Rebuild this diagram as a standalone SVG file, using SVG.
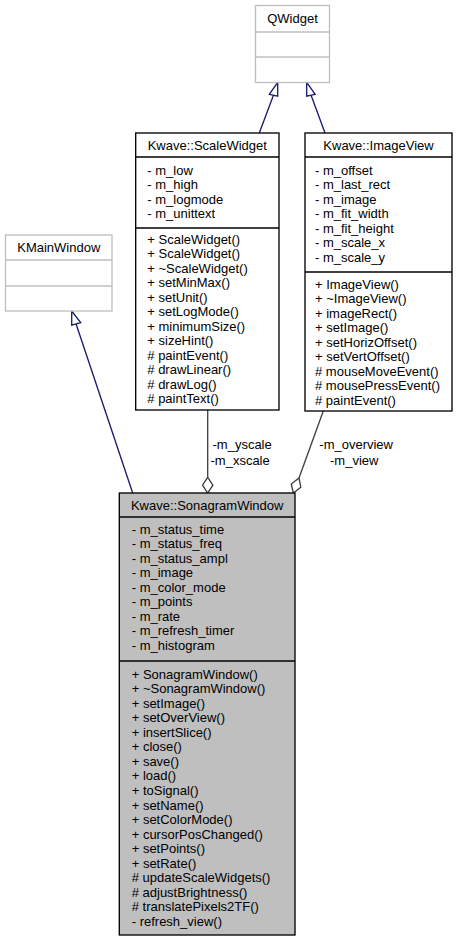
<svg xmlns="http://www.w3.org/2000/svg" width="458" height="941" viewBox="0 0 458 941">
<style>
text{font-family:"Liberation Sans",Arial,Helvetica,sans-serif;font-size:13px;fill:#000}
.c{text-anchor:middle}
.ext rect,.ext line{stroke:#bfbfbf;stroke-width:1.33;fill:#fff}
.cls rect,.cls line{stroke:#000;stroke-width:1.33;fill:#fff}
.cls rect.main{fill:#bfbfbf}
.inh{stroke:#191970;stroke-width:1.33;fill:none}
.inhh{stroke:#191970;stroke-width:1.33;fill:#fff}
.agg{stroke:#404040;stroke-width:1.33;fill:none}
.aggh{stroke:#404040;stroke-width:1.33;fill:#fff}
</style>
<rect width="458" height="941" fill="#fff"/>
<g id="edges">
<line class="inh" x1="259.3" y1="133" x2="273.5" y2="95"/>
<polygon class="inhh" points="277.7,82.3 269.3,94.3 277.7,96.2"/>
<line class="inh" x1="325" y1="133" x2="311" y2="95"/>
<polygon class="inhh" points="306.7,82.3 315.2,94.3 306.7,96.2"/>
<line class="inh" x1="132.7" y1="493" x2="76" y2="323.8"/>
<polygon class="inhh" points="71.7,311 71.7,325.2 80.7,322.6"/>
<line class="agg" x1="207.7" y1="410" x2="207.7" y2="477.3"/>
<polygon class="aggh" points="207.7,477.3 212.9,485.2 207.7,493 202.5,485.2"/>
<line class="agg" x1="323.3" y1="411" x2="299" y2="478"/>
<polygon class="aggh" points="293.3,493 291.3,484 299,478 300.8,487.2"/>
<text x="212.5" y="448.8">-m_yscale</text>
<text x="210.5" y="464.5">-m_xscale</text>
<text x="319.3" y="448.8">-m_overview</text>
<text x="330" y="464.5">-m_view</text>
</g>
<g id="QWidget" class="ext">
<rect x="255.5" y="5.5" width="74" height="77"/>
<line x1="255.5" y1="32" x2="329.5" y2="32"/>
<line x1="255.5" y1="57" x2="329.5" y2="57"/>
<text class="c" x="292.5" y="22.5">QWidget</text>
</g>
<g id="KMainWindow" class="ext">
<rect x="5.5" y="235" width="106.5" height="76"/>
<line x1="5.5" y1="260" x2="112" y2="260"/>
<line x1="5.5" y1="286" x2="112" y2="286"/>
<text class="c" x="58.8" y="251.5">KMainWindow</text>
</g>
<g id="ScaleWidget" class="cls">
<rect x="135.7" y="133" width="143.3" height="277"/>
<line x1="135.7" y1="157" x2="279" y2="157"/>
<line x1="135.7" y1="228" x2="279" y2="228"/>
<text class="c" x="207.3" y="149.5">Kwave::ScaleWidget</text>
<text x="147.3" y="174.5">- m_low</text>
<text x="147.3" y="189">- m_high</text>
<text x="147.3" y="203.5">- m_logmode</text>
<text x="147.3" y="218">- m_unittext</text>
<text x="147.3" y="243.5">+ ScaleWidget()</text>
<text x="147.3" y="258">+ ScaleWidget()</text>
<text x="147.3" y="272.5">+ ~ScaleWidget()</text>
<text x="147.3" y="287">+ setMinMax()</text>
<text x="147.3" y="301.5">+ setUnit()</text>
<text x="147.3" y="316">+ setLogMode()</text>
<text x="147.3" y="330.5">+ minimumSize()</text>
<text x="147.3" y="345">+ sizeHint()</text>
<text x="147.3" y="359.5"># paintEvent()</text>
<text x="147.3" y="374"># drawLinear()</text>
<text x="147.3" y="388.5"># drawLog()</text>
<text x="147.3" y="403"># paintText()</text>
</g>
<g id="ImageView" class="cls">
<rect x="305" y="133" width="147" height="278"/>
<line x1="305" y1="157" x2="452" y2="157"/>
<line x1="305" y1="272" x2="452" y2="272"/>
<text class="c" x="378.5" y="149.5">Kwave::ImageView</text>
<text x="315" y="174.5">- m_offset</text>
<text x="315" y="189">- m_last_rect</text>
<text x="315" y="203.5">- m_image</text>
<text x="315" y="218">- m_fit_width</text>
<text x="315" y="232.5">- m_fit_height</text>
<text x="315" y="247">- m_scale_x</text>
<text x="315" y="261.5">- m_scale_y</text>
<text x="315" y="288.5">+ ImageView()</text>
<text x="315" y="303">+ ~ImageView()</text>
<text x="315" y="317.5">+ imageRect()</text>
<text x="315" y="332">+ setImage()</text>
<text x="315" y="346.5">+ setHorizOffset()</text>
<text x="315" y="361">+ setVertOffset()</text>
<text x="315" y="375.5"># mouseMoveEvent()</text>
<text x="315" y="390"># mousePressEvent()</text>
<text x="315" y="404.5"># paintEvent()</text>
</g>
<g id="SonagramWindow" class="cls">
<rect class="main" x="119.3" y="493" width="175.7" height="442"/>
<line x1="119.3" y1="517" x2="295" y2="517"/>
<line x1="119.3" y1="661" x2="295" y2="661"/>
<text class="c" x="207.2" y="509.5">Kwave::SonagramWindow</text>
<text x="131.7" y="533.5">- m_status_time</text>
<text x="131.7" y="548">- m_status_freq</text>
<text x="131.7" y="562.5">- m_status_ampl</text>
<text x="131.7" y="577">- m_image</text>
<text x="131.7" y="591.5">- m_color_mode</text>
<text x="131.7" y="606">- m_points</text>
<text x="131.7" y="620.5">- m_rate</text>
<text x="131.7" y="635">- m_refresh_timer</text>
<text x="131.7" y="649.5">- m_histogram</text>
<text x="131.7" y="678.5">+ SonagramWindow()</text>
<text x="131.7" y="693.1">+ ~SonagramWindow()</text>
<text x="131.7" y="707.6">+ setImage()</text>
<text x="131.7" y="722.2">+ setOverView()</text>
<text x="131.7" y="736.7">+ insertSlice()</text>
<text x="131.7" y="751.3">+ close()</text>
<text x="131.7" y="765.8">+ save()</text>
<text x="131.7" y="780.4">+ load()</text>
<text x="131.7" y="794.9">+ toSignal()</text>
<text x="131.7" y="809.5">+ setName()</text>
<text x="131.7" y="824">+ setColorMode()</text>
<text x="131.7" y="838.6">+ cursorPosChanged()</text>
<text x="131.7" y="853.1">+ setPoints()</text>
<text x="131.7" y="867.7">+ setRate()</text>
<text x="131.7" y="882.2"># updateScaleWidgets()</text>
<text x="131.7" y="896.8"># adjustBrightness()</text>
<text x="131.7" y="911.3"># translatePixels2TF()</text>
<text x="131.7" y="925.9">- refresh_view()</text>
</g>
</svg>
